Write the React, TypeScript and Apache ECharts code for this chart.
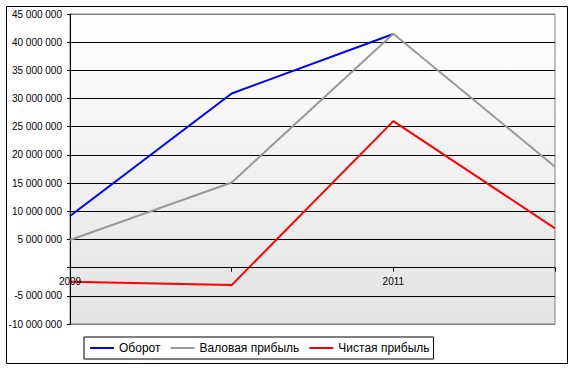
import React, { useEffect, useRef } from "react";
import * as echarts from "echarts";

const categories = ["2009", "2010", "2011", "2012"];
const seriesNames = ["Оборот", "Валовая прибыль", "Чистая прибыль"];
const turnover: (number | null)[] = [9150000, 30900000, 41450000, null];
const grossProfit: (number | null)[] = [4900000, 15100000, 41500000, 17900000];
const netProfit: (number | null)[] = [-2500000, -3100000, 26000000, 6970000];
const yMin = -10000000;
const yMax = 45000000;
const yStep = 5000000;

const fmt = (v: number) => {
  if (v === 0) return "";
  const neg = v < 0;
  const s = Math.abs(v).toString().replace(/\B(?=(\d{3})+(?!\d))/g, " ");
  return (neg ? "-" : "") + s;
};

export default function App() {
  const ref = useRef<HTMLDivElement>(null);
  useEffect(() => {
    if (!ref.current) return;
    const chart = echarts.init(ref.current, null, { renderer: "svg" });
    const nLines = Math.round((yMax - yMin) / yStep) + 1;
    const splitColors = Array.from({ length: nLines }, (_, i) =>
      i === 0 || i === nLines - 1 ? "#808080" : "#000000"
    );
    const font = "'Liberation Sans', Arial, sans-serif";
    const gridTop = 14;
    const gridBottom = 46;
    const plotH = 370 - gridTop - gridBottom;
    // place the category axis on the zero line of the value axis
    const zeroOffset = -((0 - yMin) / (yMax - yMin)) * plotH;
    chart.setOption({
      animation: false,
      backgroundColor: "#ffffff",
      textStyle: { fontFamily: font },
      grid: {
        left: 70,
        right: 19,
        top: gridTop,
        bottom: gridBottom,
        show: true,
        borderColor: "#808080",
        borderWidth: 1,
        backgroundColor: new echarts.graphic.LinearGradient(0, 0, 0, 1, [
          { offset: 0, color: "#ffffff" },
          { offset: 1, color: "#e3e3e3" },
        ]),
      },
      xAxis: {
        type: "category",
        data: categories,
        boundaryGap: false,
        position: "bottom",
        offset: zeroOffset,
        axisLine: { onZero: false, lineStyle: { color: "#000", width: 1 } },
        axisTick: { show: true, interval: 0, length: 4, lineStyle: { color: "#000" } },
        axisLabel: { interval: 1, color: "#000", fontSize: 10, margin: 9, fontFamily: font },
        splitLine: { show: false },
        z: 5,
      },
      yAxis: {
        type: "value",
        min: yMin,
        max: yMax,
        interval: yStep,
        axisLine: { show: true, lineStyle: { color: "#000", width: 1 } },
        axisTick: { show: true, length: 3, lineStyle: { color: "#000" } },
        axisLabel: { color: "#000", fontSize: 10, margin: 8, fontFamily: font, formatter: fmt },
        splitLine: { show: true, lineStyle: { color: splitColors, width: 1 } },
      },
      legend: {
        left: 84,
        top: 337,
        padding: [5, 4, 5, 6],
        borderColor: "#000",
        borderWidth: 1,
        icon: "rect",
        itemWidth: 24,
        itemHeight: 2,
        itemGap: 10,
        textStyle: { color: "#000", fontSize: 12, fontFamily: font },
        data: seriesNames,
      },
      series: [
        { name: seriesNames[0], type: "line", data: turnover, symbol: "none", lineStyle: { color: "#0000ff", width: 2 }, itemStyle: { color: "#0000ff" } },
        { name: seriesNames[1], type: "line", data: grossProfit, symbol: "none", lineStyle: { color: "#999999", width: 2 }, itemStyle: { color: "#999999" } },
        { name: seriesNames[2], type: "line", data: netProfit, symbol: "none", lineStyle: { color: "#ff0000", width: 2 }, itemStyle: { color: "#ff0000" } },
      ],
      graphic: [
        {
          type: "rect",
          shape: { x: 6.5, y: 6.5, width: 561, height: 357 },
          style: { fill: "none", stroke: "#000", lineWidth: 1 },
          silent: true,
          z: 100,
        },
      ],
    });
    return () => chart.dispose();
  }, []);
  return (
    <div
      ref={ref}
      style={{ position: "fixed", left: 0, top: 0, width: 574, height: 370 }}
    />
  );
}
